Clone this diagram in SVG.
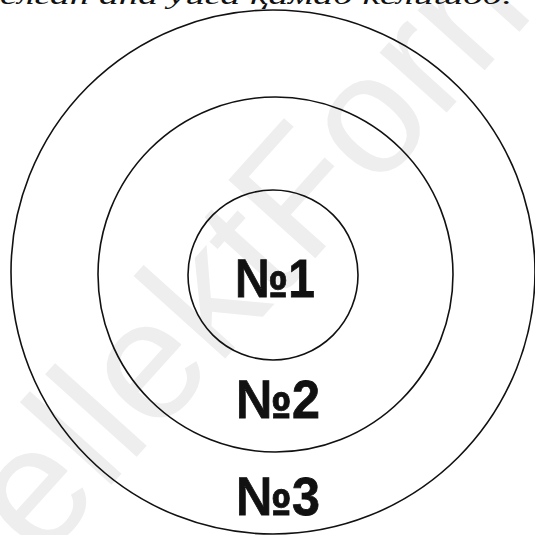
<svg xmlns="http://www.w3.org/2000/svg" width="535" height="535" viewBox="0 0 535 535">
<style>
.ring{fill:none;stroke:#111;stroke-width:1.6}
.lbl{font-family:"Liberation Sans",Arial,sans-serif;font-weight:bold;font-size:54px;fill:#111;stroke:#111;stroke-width:0.8;text-anchor:middle}
.wm{font-family:"Liberation Sans",Arial,sans-serif;font-size:170px;fill:#eeeeee}
.top{font-family:"Liberation Serif","Times New Roman",serif;font-style:italic;font-size:25px;fill:#111}
</style>
<rect width="535" height="535" fill="#fff"/>
<text class="wm" x="0" y="0" transform="translate(-86,704) rotate(-48)">IntellektForm</text>
<text class="top" x="0" y="4" textLength="512" lengthAdjust="spacingAndGlyphs">ёлган ана уйга қамаб келишоб.</text>
<g id="ring3"><circle class="ring" cx="273" cy="272" r="262"/><text class="lbl" x="278" y="515" textLength="84" lengthAdjust="spacingAndGlyphs">№3</text></g>
<g id="ring2"><circle class="ring" cx="275.5" cy="274.5" r="177.5"/><text class="lbl" x="278" y="418" textLength="84" lengthAdjust="spacingAndGlyphs">№2</text></g>
<g id="ring1"><circle class="ring" cx="273" cy="275" r="85"/><text class="lbl" x="275" y="297" textLength="80" lengthAdjust="spacingAndGlyphs">№1</text></g>
<g id="connectors"/>
</svg>
